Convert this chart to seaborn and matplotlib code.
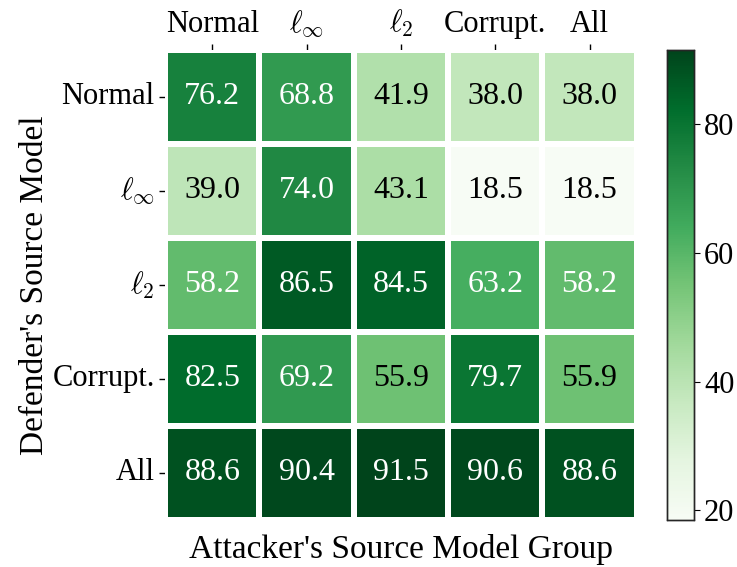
import numpy as np
import pandas as pd
import matplotlib
matplotlib.use('Agg')
import matplotlib.pyplot as plt
import seaborn as sns

sns.set_style('white')
plt.rcParams['font.family'] = ['Liberation Serif', 'DejaVu Serif']
plt.rcParams['mathtext.fontset'] = 'cm'
plt.rcParams['text.color'] = 'black'
plt.rcParams['axes.labelcolor'] = 'black'
plt.rcParams['xtick.color'] = 'black'
plt.rcParams['ytick.color'] = 'black'

attackers = ['Normal', r'$\ell_\infty$', r'$\ell_2$', 'Corrupt.', 'All']
defenders = ['Normal', r'$\ell_\infty$', r'$\ell_2$', 'Corrupt.', 'All']

row_normal = [76.2, 68.8, 41.9, 38.0, 38.0]
row_linf = [39.0, 74.0, 43.1, 18.5, 18.5]
row_l2 = [58.2, 86.5, 84.5, 63.2, 58.2]
row_corrupt = [82.5, 69.2, 55.9, 79.7, 55.9]
row_all = [88.6, 90.4, 91.5, 90.6, 88.6]

df = pd.DataFrame([row_normal, row_linf, row_l2, row_corrupt, row_all],
                  index=defenders, columns=attackers)

fig = plt.figure(figsize=(7.37, 5.67), dpi=100)
ax = fig.add_axes([0.224, 0.083, 0.64, 0.829])
cax = fig.add_axes([0.905, 0.083, 0.036, 0.829])

sns.heatmap(df, ax=ax, cbar_ax=cax, cmap='Greens', annot=True, fmt='.1f',
            linewidths=3, linecolor='white',
            annot_kws={'fontsize': 23})

# seaborn uses dark grey for light cells, make it black
for t in ax.texts:
    if t.get_color() != 'w':
        t.set_color('black')

ax.xaxis.tick_top()
ax.tick_params(axis='both', which='both', length=4, width=1, labelsize=22,
               bottom=False, top=True, left=True)
ax.set_yticklabels(defenders, rotation=0)
ax.set_xticklabels(attackers, rotation=0)
ax.set_xlabel("Attacker's Source Model Group", fontsize=24, labelpad=10)
ax.set_ylabel("Defender's Source Model", fontsize=24, labelpad=2)
ax.xaxis.set_label_position('bottom')

cax.tick_params(labelsize=22, length=4)
cax.set_yticks([20, 40, 60, 80])
for s in cax.spines.values():
    s.set_visible(True)
    s.set_linewidth(1)

fig.savefig('out.png', dpi=100)
